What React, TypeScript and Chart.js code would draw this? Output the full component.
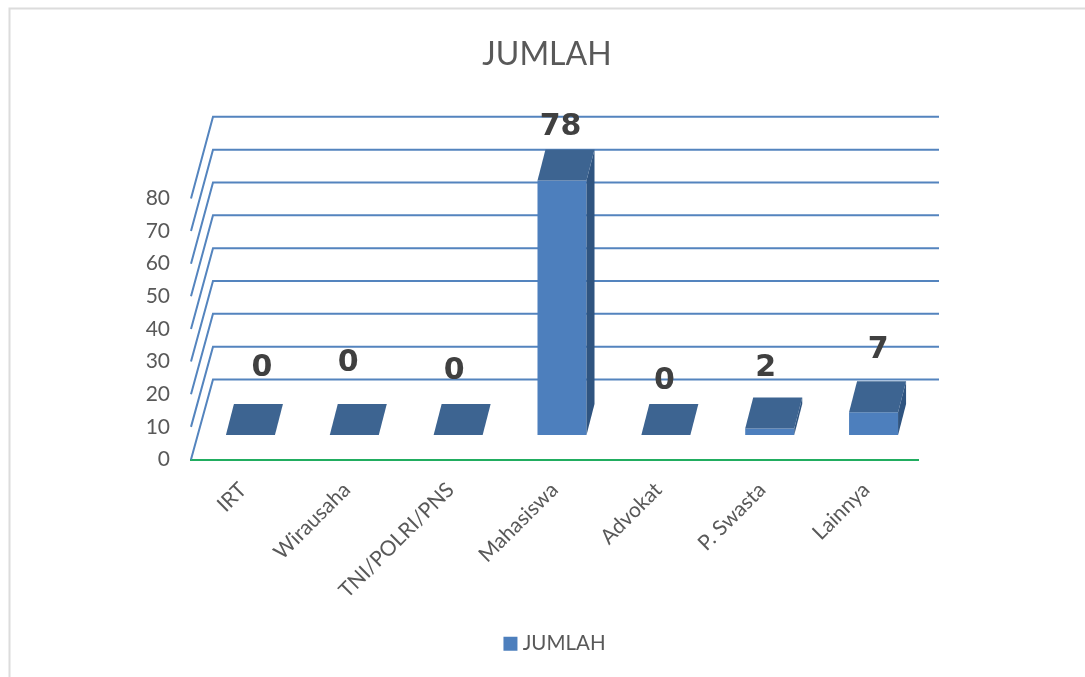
import React, { useEffect, useRef } from "react";
import { Chart, registerables } from "chart.js";

Chart.register(...registerables);

const categories = ["IRT", "Wirausaha", "TNI/POLRI/PNS", "Mahasiswa", "Advokat", "P. Swasta", "Lainnya"];
const jumlah = [0, 0, 0, 78, 0, 2, 7];

const FONT = "Lato, 'Noto Sans', sans-serif";
const labelNudge = [
  [11.5, -66.5],
  [-6, -71.5],
  [-4, -63.5],
  [-1.5, -53.5],
  [-1.5, -53.5],
  [-4, -60],
  [4.5, -62],
];

const walls3d = {
  id: "walls3d",
  afterLayout(chart: any) {
    chart.legend.left += 10;
    chart.legend.right += 10;
  },
  beforeDatasetsDraw(chart: any) {
    const { ctx, scales } = chart;
    const y = scales.y;
    const left = chart.chartArea.left;
    ctx.save();
    // frame
    ctx.strokeStyle = "#dcdcdc";
    ctx.lineWidth = 2;
    ctx.beginPath();
    ctx.moveTo(9.5, 677);
    ctx.lineTo(9.5, 8.5);
    ctx.lineTo(1085, 8.5);
    ctx.stroke();
    // walls
    ctx.strokeStyle = "#5484be";
    ctx.lineWidth = 2;
    y.ticks.forEach((t: any) => {
      const fy = y.getPixelForValue(t.value);
      const by = fy - 80 - t.value * 0.02;
      ctx.beginPath();
      ctx.moveTo(left, fy);
      ctx.lineTo(left + 22, by);
      ctx.lineTo(939, by);
      ctx.stroke();
    });
    ctx.restore();
    ctx.save();
    ctx.translate(7.5, -24.5);
  },
  afterDatasetsDraw(chart: any) {
    const { ctx } = chart;
    const meta = chart.getDatasetMeta(0);
    const dx = 8;
    const dy = 31;
    meta.data.forEach((bar: any) => {
      const l = bar.x - bar.width / 2;
      const r = bar.x + bar.width / 2;
      const top = bar.y;
      const base = bar.base;
      ctx.fillStyle = "#2f5480";
      ctx.beginPath();
      ctx.moveTo(r, top);
      ctx.lineTo(r + dx, top - dy);
      ctx.lineTo(r + dx, base - dy);
      ctx.lineTo(r, base);
      ctx.closePath();
      ctx.fill();
      ctx.fillStyle = "#3d6491";
      ctx.beginPath();
      ctx.moveTo(l, top);
      ctx.lineTo(r, top);
      ctx.lineTo(r + dx, top - dy);
      ctx.lineTo(l + dx, top - dy);
      ctx.closePath();
      ctx.fill();
    });
    ctx.fillStyle = "#404040";
    ctx.font = "bold 30px 'DejaVu Sans'";
    ctx.textAlign = "center";
    ctx.textBaseline = "middle";
    meta.data.forEach((bar: any, i: number) => {
      ctx.fillText(String(jumlah[i]), bar.x + labelNudge[i][0], bar.y + labelNudge[i][1]);
    });
    ctx.restore();
  },
};

export default function App() {
  const ref = useRef<HTMLCanvasElement>(null);
  useEffect(() => {
    document.body.style.margin = "0";
    const chart = new Chart(ref.current as HTMLCanvasElement, {
      type: "bar",
      data: {
        labels: categories,
        datasets: [
          {
            label: "JUMLAH",
            data: jumlah,
            backgroundColor: "#4d7fbd",
            borderWidth: 0,
            categoryPercentage: 1,
            barPercentage: 0.472,
          },
        ],
      },
      plugins: [walls3d],
      options: {
        responsive: false,
        animation: false,
        layout: { padding: { left: 9, right: 0, top: 35, bottom: 13 } },
        plugins: {
          tooltip: { enabled: false },
          title: {
            display: true,
            text: "JUMLAH",
            color: "#595959",
            font: { family: FONT, size: 32, weight: "normal" },
            padding: { top: 0, bottom: 125 },
          },
          legend: {
            position: "bottom",
            labels: {
              color: "#595959",
              font: { family: FONT, size: 20.5 },
              usePointStyle: true,
              pointStyle: "rect",
              boxWidth: 4,
              boxHeight: 14,
              padding: 0,
            },
          },
        },
        scales: {
          x: {
            grid: { display: false },
            border: { color: "#21ad60", width: 2 },
            ticks: {
              color: "#595959",
              font: { family: FONT, size: 21 },
              padding: 10,
              minRotation: 45,
              maxRotation: 45,
              autoSkip: false,
            },
            afterFit(s: any) {
              s.height = 174;
            },
          },
          y: {
            min: 0,
            max: 80,
            grid: { display: false },
            border: { display: false },
            ticks: {
              stepSize: 10,
              color: "#595959",
              font: { family: FONT, size: 21 },
              padding: 13,
            },
            afterFit(s: any) {
              s.width = 182;
            },
          },
          spare: {
            position: "right",
            grid: { display: false },
            border: { display: false },
            ticks: { display: false },
            afterFit(s: any) {
              s.width = 167;
            },
          },
        },
      },
    } as any);
    return () => chart.destroy();
  }, []);
  return <canvas ref={ref} width={1085} height={677} style={{ display: "block" }} />;
}
